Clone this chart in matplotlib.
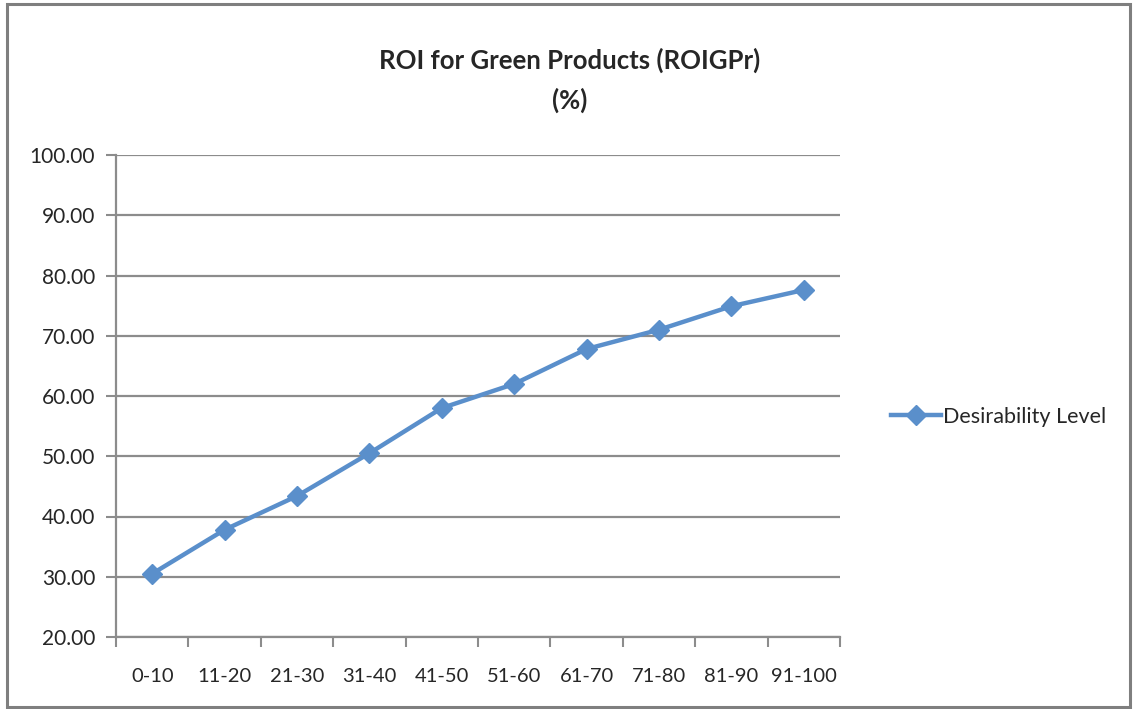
import matplotlib
matplotlib.use("Agg")
import matplotlib.pyplot as plt
from matplotlib.patches import Rectangle

# values
categories = ['0-10', '11-20', '21-30', '31-40', '41-50',
              '51-60', '61-70', '71-80', '81-90', '91-100']
desirability = [30.5, 37.8, 43.4, 50.5, 58.0, 62.0, 67.8, 71.0, 74.9, 77.6]
y_ticks = [20, 30, 40, 50, 60, 70, 80, 90, 100]

plt.rcParams['font.family'] = ['Lato', 'DejaVu Sans']

BLUE = '#5A8FCB'
GRID = '#8C8C8C'
TEXT = '#262626'

fig = plt.figure(figsize=(11.36, 7.09), dpi=100)
ax = fig.add_axes([116 / 1136, 1 - 637 / 709, (840 - 116) / 1136, (637 - 155) / 709])

x = list(range(len(categories)))
ax.plot(x, desirability, color=BLUE, linewidth=3.2, marker='D', markersize=10,
        label='Desirability Level', zorder=3)

ax.set_xlim(-0.5, len(categories) - 0.5)
ax.set_ylim(20, 100)
ax.set_yticks(y_ticks)
ax.set_yticklabels([f'{v:.2f}' for v in y_ticks], fontsize=15, color=TEXT)
ax.set_xticks([i + 0.5 for i in range(-1, len(categories))], minor=False)
ax.set_xticklabels([])
ax.set_xticks(x, minor=True)
ax.set_xticklabels(categories, minor=True, fontsize=14.5, color=TEXT)
ax.tick_params(axis='x', which='major', length=7, width=1.5, color=GRID, direction='out')
ax.tick_params(axis='x', which='minor', length=0, pad=22)
ax.tick_params(axis='y', length=7, width=1.5, color=GRID, direction='out', pad=8)

ax.grid(axis='y', color=GRID, linewidth=1.6)
ax.set_axisbelow(True)
for side in ('top', 'right'):
    ax.spines[side].set_visible(False)
for side in ('left', 'bottom'):
    ax.spines[side].set_color(GRID)
    ax.spines[side].set_linewidth(1.6)

fig.text(570 / 1136, 1 - 60 / 709, 'ROI for Green Products (ROIGPr)', ha='center',
         va='center', fontsize=18.5, fontweight='bold', color=TEXT)
fig.text(570 / 1136, 1 - 100 / 709, '(%)', ha='center', va='center',
         fontsize=18.5, fontweight='bold', color=TEXT)

fig.legend(loc='center left', bbox_to_anchor=(872 / 1136, 1 - 417 / 709), frameon=False,
           fontsize=15.5, handlelength=2.3, handletextpad=0.1, labelcolor=TEXT)

# outer chart frame
fig.patches.append(Rectangle((7 / 1136, 2 / 709), (1130 - 7) / 1136, (705 - 2) / 709,
                             transform=fig.transFigure, fill=False,
                             edgecolor='#7F7F7F', linewidth=2.2))

fig.savefig('out.png', dpi=100)
